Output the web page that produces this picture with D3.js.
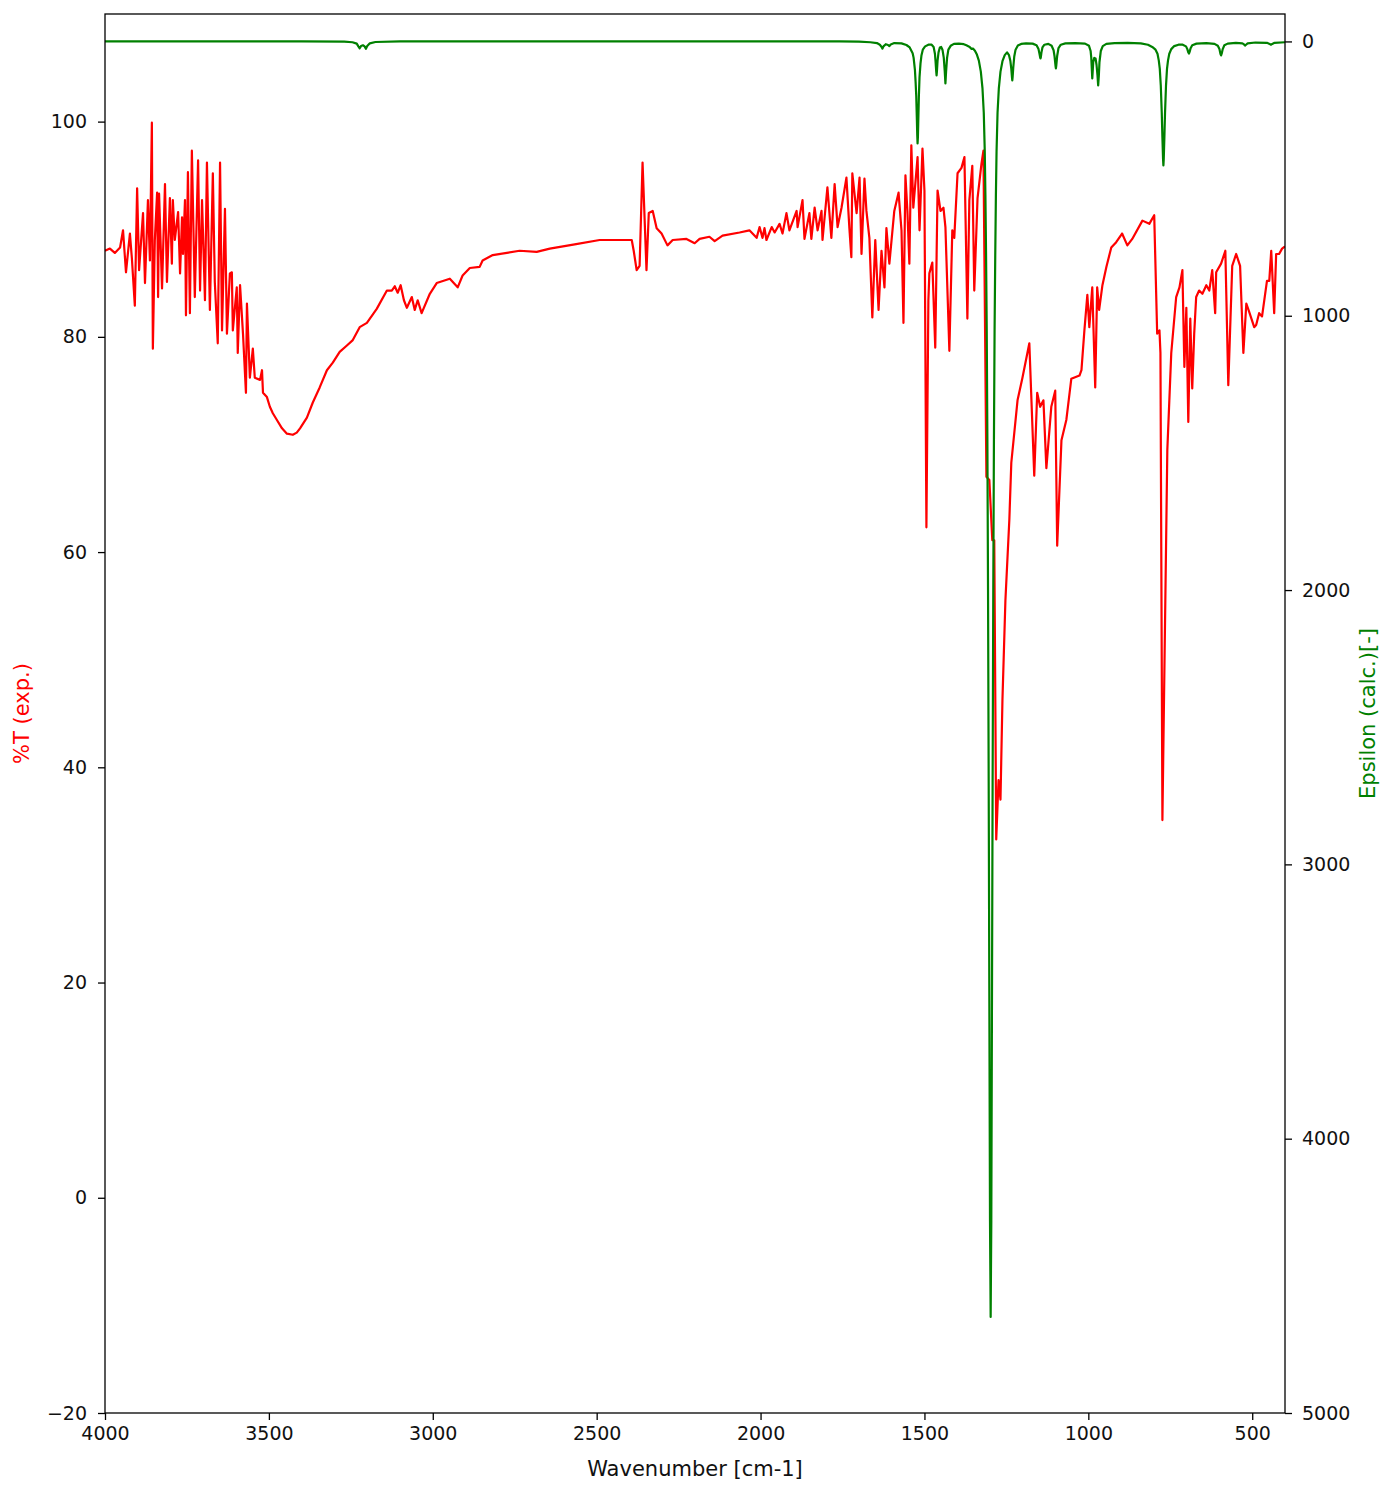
<!DOCTYPE html>
<html>
<head>
<meta charset="utf-8">
<script src="https://cdn.jsdelivr.net/npm/d3@7"></script>
<style>
  body { margin: 0; background: #fff; }
  text { font-family: "DejaVu Sans", sans-serif; }
</style>
</head>
<body>
<svg id="chart" width="1386" height="1486"></svg>
<script>
// Axis ticks
const wavenumberTicks = [4000, 3500, 3000, 2500, 2000, 1500, 1000, 500];
const transmittanceTicks = [-20, 0, 20, 40, 60, 80, 100];
const epsilonTicks = [0, 1000, 2000, 3000, 4000, 5000];

// Measured IR spectrum: [wavenumber cm-1, %T]
const expSpectrum = [
  [4000,88.0],[3985,88.2],[3970,87.8],[3954,88.3],[3945,89.9],[3936,86.0],[3924,89.6],[3918,87.3],
  [3909,82.9],[3902,93.8],[3896,86.2],[3884,91.5],[3878,85.0],[3869,92.7],[3863,87.1],[3857,99.9],
  [3854,78.9],[3848,89.0],[3841,93.4],[3838,83.7],[3835,93.3],[3826,84.5],[3817,94.2],[3811,85.1],
  [3802,92.9],[3796,86.8],[3793,92.7],[3787,89.0],[3777,91.6],[3771,85.9],[3765,91.1],[3762,87.7],
  [3756,92.7],[3753,82.0],[3747,95.3],[3741,82.2],[3735,97.3],[3726,83.7],[3716,96.4],[3710,84.3],
  [3704,92.7],[3695,83.4],[3689,96.2],[3680,82.5],[3671,95.2],[3665,85.1],[3656,79.4],[3649,96.2],
  [3643,80.6],[3634,91.9],[3628,80.3],[3619,85.9],[3613,86.0],[3610,80.6],[3598,84.6],[3595,78.5],
  [3588,84.8],[3579,80.3],[3570,74.8],[3567,83.1],[3558,76.2],[3549,78.9],[3543,76.2],[3527,76.0],
  [3521,76.9],[3518,74.8],[3506,74.4],[3497,73.5],[3488,72.9],[3476,72.3],[3460,71.5],[3445,71.0],
  [3427,70.9],[3415,71.1],[3405,71.5],[3384,72.5],[3366,73.9],[3345,75.3],[3323,76.9],[3305,77.6],
  [3284,78.6],[3262,79.2],[3244,79.7],[3223,80.9],[3201,81.3],[3171,82.6],[3140,84.3],[3125,84.3],
  [3116,84.7],[3107,84.1],[3098,84.8],[3088,83.4],[3079,82.7],[3064,83.7],[3055,82.5],[3046,83.4],
  [3034,82.2],[3009,84.0],[2988,85.0],[2948,85.4],[2924,84.6],[2909,85.7],[2887,86.4],[2857,86.5],
  [2848,87.1],[2817,87.6],[2774,87.8],[2735,88.0],[2683,87.9],[2643,88.2],[2567,88.6],[2491,89.0],
  [2430,89.0],[2393,89.0],[2387,88.0],[2378,86.2],[2369,86.6],[2360,96.2],[2348,86.2],[2341,91.5],
  [2329,91.7],[2317,90.1],[2302,89.6],[2284,88.5],[2268,89.0],[2226,89.1],[2201,88.7],[2186,89.1],
  [2156,89.3],[2140,88.9],[2116,89.4],[2064,89.7],[2034,89.9],[2012,89.2],[2003,90.2],[1994,89.2],
  [1988,90.1],[1982,89.0],[1966,90.2],[1957,89.7],[1942,90.5],[1933,89.6],[1921,91.5],[1912,89.9],
  [1890,91.7],[1887,90.2],[1872,92.7],[1866,89.1],[1851,91.5],[1845,89.1],[1835,92.0],[1826,89.9],
  [1814,91.7],[1811,89.0],[1796,93.9],[1784,89.2],[1774,94.2],[1765,90.2],[1753,92.0],[1738,94.8],
  [1729,90.1],[1723,87.4],[1720,95.2],[1707,91.5],[1698,94.8],[1692,87.7],[1683,94.7],[1677,91.7],
  [1668,89.2],[1659,81.8],[1650,89.0],[1640,82.5],[1631,88.0],[1622,84.6],[1616,90.1],[1607,86.8],
  [1592,91.7],[1579,93.4],[1570,89.9],[1564,81.3],[1558,95.0],[1552,91.7],[1546,86.8],[1540,97.8],
  [1534,92.0],[1521,96.7],[1515,89.9],[1506,97.5],[1500,93.6],[1494,62.3],[1488,83.4],[1485,85.9],
  [1476,86.9],[1467,79.0],[1460,93.6],[1451,91.7],[1442,92.0],[1436,90.2],[1424,78.7],[1415,89.9],
  [1409,89.2],[1399,95.2],[1387,95.7],[1378,96.7],[1369,81.7],[1363,92.7],[1354,95.9],[1348,84.3],
  [1338,92.9],[1326,96.1],[1320,97.3],[1311,67.0],[1302,66.7],[1293,61.1],[1287,61.1],[1281,33.3],
  [1274,38.8],[1268,37.0],[1262,46.3],[1253,55.5],[1241,63.0],[1235,68.3],[1216,74.1],[1201,76.2],
  [1180,79.4],[1165,67.1],[1156,74.8],[1147,73.5],[1137,74.1],[1128,67.8],[1113,73.5],[1101,75.0],
  [1095,60.6],[1082,70.4],[1067,72.3],[1052,76.1],[1027,76.4],[1021,76.9],[1012,80.6],[1003,83.9],
  [997,80.9],[988,84.6],[979,75.3],[973,84.6],[967,82.5],[957,84.8],[945,86.5],[930,88.3],
  [915,88.8],[897,89.6],[881,88.5],[866,89.1],[835,90.8],[814,90.5],[799,91.3],[790,80.3],
  [783,80.6],[780,78.5],[774,35.1],[759,69.5],[747,78.5],[732,83.7],[722,84.6],[713,86.2],
  [707,77.2],[701,82.7],[695,72.1],[689,81.7],[683,75.2],[677,80.3],[671,83.7],[662,84.3],
  [652,84.0],[640,84.8],[631,84.3],[622,86.2],[613,82.2],[610,86.0],[595,86.8],[582,88.0],
  [573,75.5],[561,86.6],[549,87.7],[537,86.6],[527,78.5],[518,83.1],[509,82.3],[494,80.9],
  [488,81.1],[479,82.2],[470,81.9],[455,85.2],[448,85.2],[442,88.0],[433,82.2],[427,87.7],
  [418,87.7],[409,88.2],[400,88.4]
];

// Calculated IR spectrum: [wavenumber cm-1, epsilon]
const calcSpectrum = [
  [4000,0],[3400,0],[3270,1],[3245,3],[3232,8],[3227,18],[3223,25],[3219,17],[3213,14],[3208,18],
  [3204,27],[3200,17],[3192,7],[3175,2],[3100,0],[1760,0],[1700,1],[1665,3],[1645,6],[1636,12],
  [1631,20],[1628,26],[1625,18],[1618,10],[1611,13],[1607,17],[1603,11],[1592,6],[1570,7],[1555,13],
  [1545,22],[1536,43],[1533,60],[1529,105],[1527,147],[1525,200],[1523,290],[1522,340],[1521,372],
  [1520,350],[1519,300],[1517,200],[1515,130],[1512,80],[1509,50],[1505,30],[1498,18],[1488,12],
  [1478,12],[1472,20],[1468,45],[1466,75],[1464,110],[1463,124],[1462,110],[1460,70],[1457,40],
  [1453,22],[1449,20],[1445,30],[1441,60],[1438,110],[1436,153],[1434,110],[1431,60],[1427,30],
  [1420,16],[1410,9],[1395,8],[1380,10],[1372,14],[1362,20],[1357,27],[1352,26],[1346,34],
  [1340,48],[1334,70],[1328,110],[1323,170],[1319,260],[1316,400],[1314,560],[1312,780],
  [1310,1050],[1308,1450],[1306,2000],[1304,2700],[1302,3500],[1300,4300],[1298,4650],[1296,4300],
  [1294,3500],[1292,2700],[1290,2000],[1288,1450],[1286,1050],[1284,780],[1282,560],[1280,400],
  [1277,260],[1273,170],[1268,110],[1262,72],[1255,50],[1248,40],[1242,50],[1238,70],[1235,100],
  [1233,130],[1232,142],[1231,130],[1229,95],[1226,55],[1222,30],[1215,15],[1205,9],[1190,7],
  [1170,8],[1158,14],[1152,28],[1149,45],[1147,58],[1146,62],[1145,58],[1143,40],[1140,22],
  [1134,12],[1122,9],[1112,16],[1106,32],[1103,55],[1100,90],[1099,98],[1098,90],[1095,52],
  [1091,24],[1084,12],[1070,7],[1040,6],[1010,8],[998,16],[993,35],[991,60],[989,110],[988,135],
  [987,115],[985,75],[982,60],[978,62],[975,85],[972,125],[970,160],[968,125],[966,75],[962,35],
  [956,17],[945,9],[920,6],[880,5],[840,7],[818,12],[805,20],[795,30],[789,45],[785,70],[782,100],
  [779,160],[776,260],[774,350],[772,430],[771,452],[770,430],[768,350],[766,260],[763,160],
  [760,100],[757,70],[753,45],[747,28],[738,17],[725,12],[712,12],[702,18],[698,28],[695,40],
  [693,44],[691,38],[688,25],[683,14],[670,8],[640,6],[615,9],[605,16],[600,28],[597,45],[595,51],
  [593,44],[590,28],[585,14],[575,8],[550,5],[530,7],[525,11],[522,15],[519,12],[514,7],[490,4],
  [455,5],[447,9],[443,12],[439,9],[432,5],[400,3]
];

const plot = { left: 105, right: 1285, top: 14, bottom: 1413 };
const tickFont = 19, labelFont = 21, tickLen = 7;

const svg = d3.select("#chart");

const x = d3.scaleLinear().domain([4000, 400]).range([plot.left, plot.right]);
const yT = d3.scaleLinear().domain([-20, 110]).range([plot.bottom, plot.top]);
const yE = d3.scaleLinear().domain([5000, -100]).range([plot.bottom, plot.top]);

svg.append("defs").append("clipPath").attr("id", "plot-clip")
  .append("rect")
  .attr("x", plot.left).attr("y", plot.top)
  .attr("width", plot.right - plot.left).attr("height", plot.bottom - plot.top);

const lines = svg.append("g").attr("clip-path", "url(#plot-clip)");

// experimental trace (left axis), then calculated trace on top (right axis)
lines.append("path")
  .datum(expSpectrum)
  .attr("fill", "none")
  .attr("stroke", "#ff0000")
  .attr("stroke-width", 2.2)
  .attr("stroke-linejoin", "round")
  .attr("d", d3.line().x(d => x(d[0])).y(d => yT(d[1])));

lines.append("path")
  .datum(calcSpectrum)
  .attr("fill", "none")
  .attr("stroke", "#008000")
  .attr("stroke-width", 2.2)
  .attr("stroke-linejoin", "round")
  .attr("d", d3.line().x(d => x(d[0])).y(d => yE(d[1])));

function styleAxis(g) {
  g.select(".domain").remove();
  g.selectAll(".tick line").attr("stroke", "#000").attr("stroke-width", 1.3);
  g.selectAll(".tick text").attr("fill", "#111").style("font-size", tickFont + "px")
    .attr("font-family", "DejaVu Sans");
}

svg.append("g")
  .attr("transform", `translate(0,${plot.bottom})`)
  .call(d3.axisBottom(x).tickValues(wavenumberTicks).tickSize(tickLen).tickPadding(7).tickFormat(d3.format("d")))
  .call(styleAxis);

svg.append("g")
  .attr("transform", `translate(${plot.left},0)`)
  .call(d3.axisLeft(yT).tickValues(transmittanceTicks).tickSize(tickLen).tickPadding(11)
    .tickFormat(d => d < 0 ? "\u2212" + Math.abs(d) : String(d)))
  .call(styleAxis);

svg.append("g")
  .attr("transform", `translate(${plot.right},0)`)
  .call(d3.axisRight(yE).tickValues(epsilonTicks).tickSize(tickLen).tickPadding(10).tickFormat(d3.format("d")))
  .call(styleAxis);

// Frame
svg.append("rect")
  .attr("x", plot.left).attr("y", plot.top)
  .attr("width", plot.right - plot.left).attr("height", plot.bottom - plot.top)
  .attr("fill", "none").attr("stroke", "#000").attr("stroke-width", 1.3);

// Axis titles
svg.append("text")
  .attr("x", (plot.left + plot.right) / 2).attr("y", 1476)
  .attr("text-anchor", "middle").style("font-size", labelFont + "px").attr("fill", "#111")
  .text("Wavenumber [cm-1]");

svg.append("text")
  .attr("transform", `translate(29,${(plot.top + plot.bottom) / 2}) rotate(-90)`)
  .attr("text-anchor", "middle").style("font-size", labelFont + "px").attr("fill", "#ff0000")
  .text("%T (exp.)");

svg.append("text")
  .attr("transform", `translate(1375,${(plot.top + plot.bottom) / 2}) rotate(-90)`)
  .attr("text-anchor", "middle").style("font-size", labelFont + "px").attr("fill", "#008000")
  .text("Epsilon (calc.)[-]");
</script>
</body>
</html>
